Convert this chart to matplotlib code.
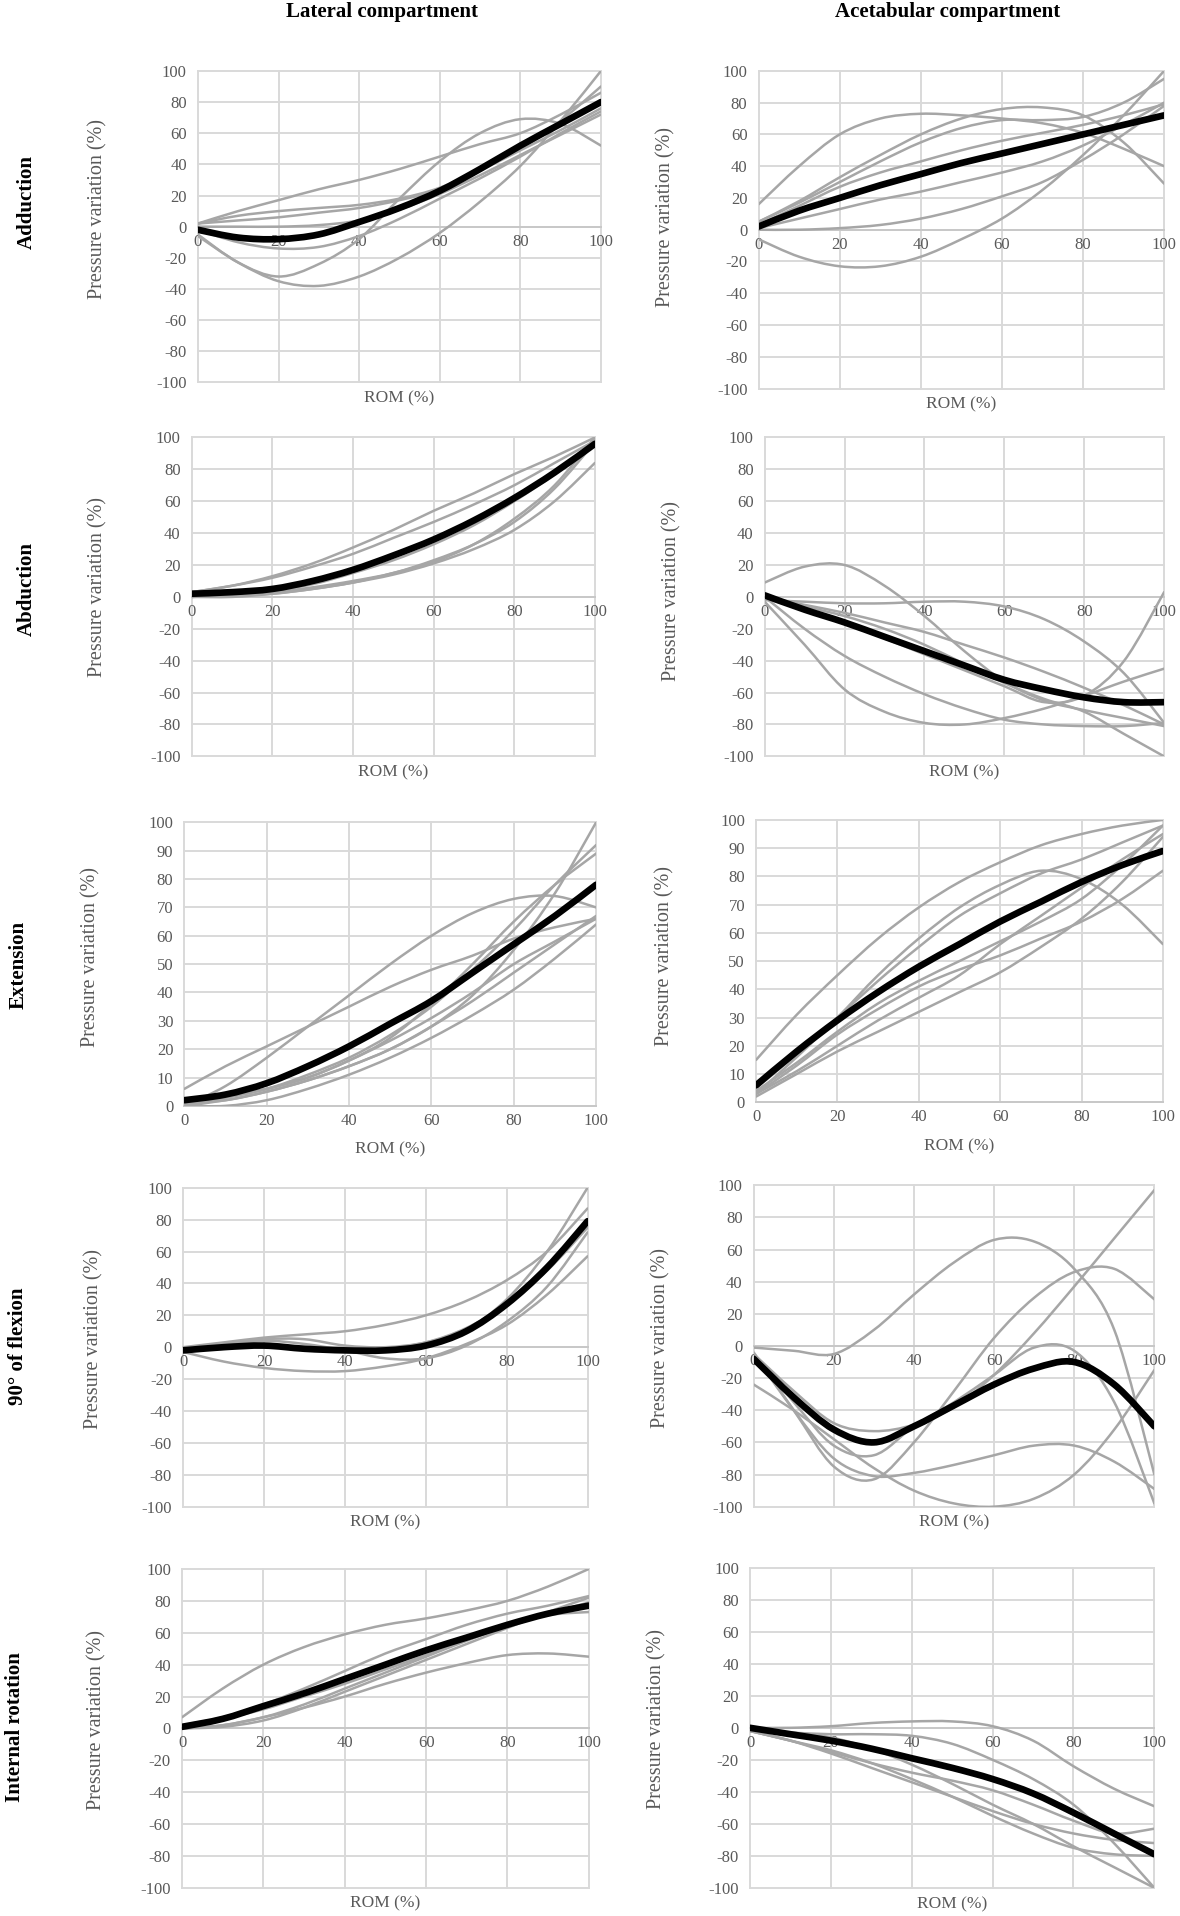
import numpy as np
import matplotlib
matplotlib.use("Agg")
import matplotlib.pyplot as plt
from matplotlib.path import Path
from matplotlib.patches import PathPatch

plt.rcParams['font.family'] = ['Liberation Serif', 'DejaVu Serif']
plt.rcParams['axes.unicode_minus'] = False

# ---------------- data ----------------
rom = [0, 10, 20, 30, 40, 50, 60, 70, 80, 90, 100]

col_titles = ["Lateral compartment", "Acetabular compartment"]
row_titles = ["Adduction", "Abduction", "Extension", "90° of flexion", "Internal rotation"]
y_label = "Pressure variation (%)"
x_label = "ROM (%)"

# Adduction - lateral
lat_add_mean = [-2, -7, -8, -5, 3, 12, 23, 37, 52, 66, 80]
lat_add_trials = [
    [2, 10, 17, 24, 30, 37, 45, 53, 60, 72, 86],
    [2, 7, 10, 12, 14, 18, 25, 37, 50, 68, 90],
    [2, 4, 6, 9, 12, 17, 24, 36, 49, 62, 76],
    [0, 0, 0, 1, 4, 11, 21, 33, 46, 59, 72],
    [-2, -10, -14, -13, -6, 5, 18, 31, 45, 60, 74],
    [-5, -23, -32, -24, -8, 18, 42, 60, 69, 66, 52],
    [-6, -23, -35, -38, -32, -20, -4, 16, 39, 68, 100],
]
# Adduction - acetabular
ace_add_mean = [2, 12, 20, 28, 35, 42, 48, 54, 60, 66, 72]
ace_add_trials = [
    [16, 40, 60, 70, 73, 72, 70, 67, 61, 51, 40],
    [5, 18, 33, 47, 60, 70, 76, 77, 72, 55, 29],
    [5, 17, 30, 43, 55, 64, 69, 69, 71, 80, 95],
    [3, 15, 27, 36, 43, 50, 56, 61, 66, 72, 79],
    [1, 7, 13, 19, 24, 30, 36, 43, 53, 66, 80],
    [0, 0, 1, 3, 7, 13, 21, 30, 44, 60, 78],
    [-6, -17, -23, -23, -17, -6, 7, 25, 47, 72, 100],
]
# Abduction - lateral
lat_abd_mean = [2, 3, 5, 10, 17, 26, 36, 48, 62, 78, 96]
lat_abd_trials = [
    [3, 7, 13, 21, 31, 42, 54, 65, 77, 88, 100],
    [3, 7, 12, 19, 27, 37, 47, 58, 70, 84, 98],
    [1, 2, 4, 8, 15, 23, 33, 45, 60, 77, 97],
    [0, 1, 3, 6, 10, 15, 23, 33, 47, 68, 97],
    [0, 0, 2, 5, 9, 15, 22, 33, 49, 70, 100],
    [0, 1, 2, 5, 9, 14, 21, 30, 42, 60, 84],
]
# Abduction - acetabular
ace_abd_mean = [1, -8, -16, -25, -34, -43, -52, -58, -63, -66, -66]
ace_abd_trials = [
    [9, 19, 20, 7, -12, -34, -53, -65, -71, -76, -81],
    [-2, -3, -4, -4, -3, -3, -6, -14, -28, -48, -79],
    [-3, -30, -58, -72, -79, -80, -76, -70, -62, -53, -45],
    [0, -5, -10, -16, -22, -30, -38, -47, -57, -68, -80],
    [0, -6, -12, -20, -30, -42, -54, -64, -72, -86, -100],
    [0, -20, -37, -50, -61, -70, -77, -80, -81, -81, -79],
    [-1, -8, -16, -26, -36, -46, -56, -66, -62, -40, 3],
]
# Extension - lateral
lat_ext_mean = [2, 4, 8, 14, 21, 29, 37, 47, 57, 67, 78]
lat_ext_trials = [
    [6, 14, 21, 28, 35, 42, 48, 53, 59, 63, 66],
    [0, 7, 17, 28, 39, 50, 60, 68, 73, 74, 70],
    [1, 2, 5, 9, 14, 20, 28, 39, 55, 75, 100],
    [1, 3, 6, 11, 17, 25, 35, 48, 62, 78, 92],
    [0, 3, 6, 10, 16, 24, 36, 50, 65, 78, 89],
    [0, 2, 5, 9, 14, 20, 28, 37, 47, 57, 67],
    [0, 0, 2, 6, 11, 17, 24, 32, 41, 52, 64],
    [1, 3, 6, 10, 16, 23, 31, 40, 50, 58, 66],
]
# Extension - acetabular
ace_ext_mean = [6, 18, 29, 39, 48, 56, 64, 71, 78, 84, 89]
ace_ext_trials = [
    [15, 31, 45, 58, 69, 78, 85, 91, 95, 98, 100],
    [3, 16, 30, 45, 58, 69, 77, 82, 79, 70, 56],
    [5, 17, 30, 43, 55, 66, 74, 81, 86, 92, 98],
    [4, 14, 25, 35, 43, 50, 57, 64, 72, 84, 98],
    [3, 13, 24, 33, 41, 47, 52, 58, 64, 72, 82],
    [3, 11, 20, 29, 37, 45, 56, 66, 76, 86, 95],
    [2, 10, 18, 25, 32, 39, 46, 55, 65, 78, 94],
]
# 90 deg flexion - lateral
lat_flx_mean = [-2, 0, 1, -1, -2, -2, 1, 10, 27, 50, 79]
lat_flx_trials = [
    [0, 3, 6, 8, 10, 14, 20, 29, 42, 60, 87],
    [-2, 2, 5, 5, 1, 0, 3, 11, 30, 60, 100],
    [-2, 1, 4, 2, -2, -7, -7, 1, 16, 38, 72],
    [-3, -9, -13, -15, -15, -12, -7, 2, 14, 33, 57],
    [-2, -1, 1, 0, -2, -1, 3, 12, 27, 48, 75],
]
# 90 deg flexion - acetabular
ace_flx_mean = [-8, -32, -52, -60, -50, -37, -24, -14, -10, -24, -50]
ace_flx_trials = [
    [-1, -3, -5, 10, 32, 52, 66, 65, 48, 10, -80],
    [-4, -40, -75, -83, -60, -28, 5, 30, 46, 48, 29],
    [-5, -28, -48, -53, -49, -38, -18, 8, 37, 67, 97],
    [-5, -35, -62, -68, -50, -35, -18, -1, -3, -35, -98],
    [-24, -40, -58, -76, -90, -98, -100, -95, -80, -52, -15],
    [-5, -40, -70, -81, -79, -74, -68, -62, -62, -72, -89],
]
# Internal rotation - lateral
lat_ir_mean = [1, 6, 14, 22, 31, 40, 49, 57, 65, 72, 77]
lat_ir_trials = [
    [7, 25, 40, 51, 59, 65, 69, 74, 80, 89, 100],
    [0, 2, 7, 13, 20, 28, 35, 41, 46, 47, 45],
    [2, 7, 15, 25, 36, 47, 56, 65, 72, 77, 83],
    [0, 1, 5, 13, 23, 33, 43, 53, 63, 73, 82],
    [0, 2, 7, 15, 25, 35, 45, 55, 64, 71, 73],
    [2, 6, 12, 20, 28, 37, 46, 56, 65, 72, 79],
]
# Internal rotation - acetabular
ace_ir_mean = [0, -4, -8, -13, -19, -25, -32, -41, -53, -66, -79]
ace_ir_trials = [
    [0, 0, 1, 3, 4, 4, 1, -8, -24, -38, -49],
    [-2, -3, -4, -4, -5, -10, -20, -32, -48, -72, -100],
    [-2, -3, -6, -13, -23, -35, -48, -60, -74, -87, -100],
    [-2, -8, -15, -22, -28, -33, -39, -48, -58, -66, -63],
    [-2, -8, -16, -25, -34, -43, -52, -60, -66, -70, -72],
    [-2, -8, -14, -22, -32, -43, -55, -66, -75, -79, -80],
]

full_ticks = [-100, -80, -60, -40, -20, 0, 20, 40, 60, 80, 100]
pos_ticks = [0, 10, 20, 30, 40, 50, 60, 70, 80, 90, 100]
x_ticks = [0, 20, 40, 60, 80, 100]

panels = [
    (lat_add_mean, lat_add_trials, full_ticks), (ace_add_mean, ace_add_trials, full_ticks),
    (lat_abd_mean, lat_abd_trials, full_ticks), (ace_abd_mean, ace_abd_trials, full_ticks),
    (lat_ext_mean, lat_ext_trials, pos_ticks), (ace_ext_mean, ace_ext_trials, pos_ticks),
    (lat_flx_mean, lat_flx_trials, full_ticks), (ace_flx_mean, ace_flx_trials, full_ticks),
    (lat_ir_mean, lat_ir_trials, full_ticks), (ace_ir_mean, ace_ir_trials, full_ticks),
]

# ---------------- layout (figure fractions) ----------------
W, H = 966.0, 1568.0
boxes = [  # left, right, top, bottom in preview pixels
    (162, 492, 58, 313), (621, 953, 58, 318),
    (157, 487, 358, 619), (626, 953, 358, 619),
    (151, 488, 673, 905), (619, 952, 671, 902),
    (150, 481, 972, 1233), (617, 945, 970, 1233),
    (149, 482, 1284, 1545), (614, 945, 1283, 1545),
]
ylabel_x = [88, 553, 88, 558, 82, 552, 85, 549, 87, 546]
ylabel_yc = [0.557, 0.54, 0.53, 0.52, 0.525, 0.517, 0.527, 0.526, 0.527, 0.528]
row_label_pos = [(22, 165), (22, 482), (15, 790), (15, 1102), (12, 1413)]
col_title_pos = [(313, 10), (776, 10)]

GRID = '#d9d9d9'
TXT = '#595959'
GRAY = '#a6a6a6'


def smooth_path(x, y):
    pts = np.column_stack([x, y]).astype(float)
    n = len(pts)
    verts = [pts[0]]
    codes = [Path.MOVETO]
    for i in range(n - 1):
        p0 = pts[max(i - 1, 0)]
        p1 = pts[i]
        p2 = pts[i + 1]
        p3 = pts[min(i + 2, n - 1)]
        verts += [p1 + (p2 - p0) / 6.0, p2 - (p3 - p1) / 6.0, p2]
        codes += [Path.CURVE4] * 3
    return Path(verts, codes)


fig = plt.figure(figsize=(11.8, 19.16), dpi=100)

for k, (mean, trials, yt) in enumerate(panels):
    l, r, t, b = boxes[k]
    ax = fig.add_axes([l / W, 1 - b / H, (r - l) / W, (b - t) / H])
    ax.set_xlim(0, 100)
    ax.set_ylim(yt[0], yt[-1])
    ax.set_xticks(x_ticks)
    ax.set_xticklabels([str(v) for v in x_ticks])
    ax.set_yticks(yt)
    ax.set_yticklabels([str(v) for v in yt])
    ax.grid(True, color=GRID, lw=1.4)
    ax.set_axisbelow(True)
    for s in ['top', 'right', 'left']:
        ax.spines[s].set_visible(False)
    ax.spines['bottom'].set_color('#c8c8c8')
    ax.spines['bottom'].set_linewidth(1.4)
    if yt[0] < 0:
        ax.spines['bottom'].set_position(('data', 0))
    ax.tick_params(length=0, labelsize=12, colors=TXT)
    ax.tick_params(axis='x', pad=5)
    ax.tick_params(axis='y', pad=8)
    for gl in ax.get_xgridlines() + ax.get_ygridlines():
        gl.set_clip_on(False)

    for tr in trials:
        ax.add_patch(PathPatch(smooth_path(rom, tr), facecolor='none', edgecolor=GRAY,
                               lw=1.8, capstyle='round', joinstyle='round', zorder=3))
    ax.add_patch(PathPatch(smooth_path(rom, mean), facecolor='none', edgecolor='black',
                           lw=4.8, capstyle='round', joinstyle='round', zorder=4))

    ax.set_ylabel(y_label, fontsize=14.5, color=TXT)
    ax.yaxis.set_label_coords((ylabel_x[k] - l) / (r - l), ylabel_yc[k])
    ax.text(0.5, -0.05 if yt[0] < 0 else -0.155, x_label, transform=ax.transAxes,
            ha='center', va='center', fontsize=12.5, color=TXT)

for (x, y), txt in zip(col_title_pos, col_titles):
    fig.text(x / W, 1 - y / H, txt, ha='center', va='center', fontsize=15, fontweight='bold')
for (x, y), txt in zip(row_label_pos, row_titles):
    fig.text(x / W, 1 - y / H, txt, ha='center', va='center', fontsize=15,
             fontweight='bold', rotation=90)

fig.savefig("out.png", dpi=100)
